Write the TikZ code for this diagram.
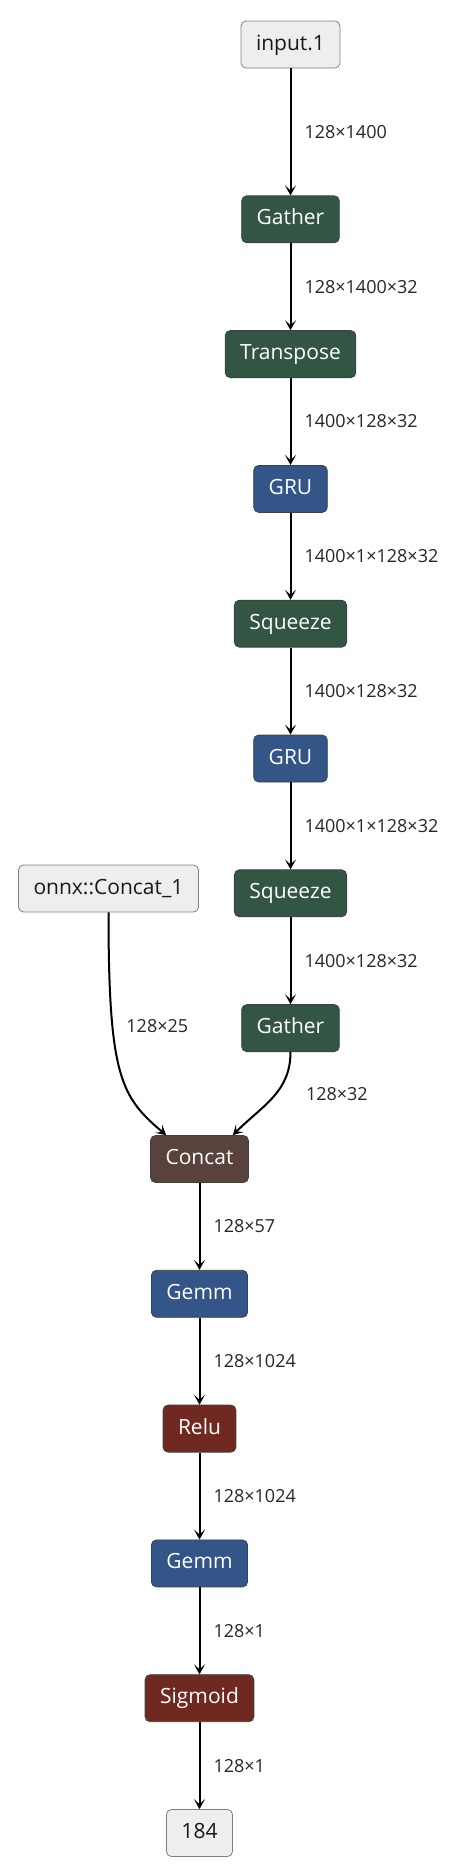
\documentclass[tikz,border=0pt]{standalone}
\usepackage{fontspec}
\setmainfont{Open Sans}
\usepackage{tikz}
\usetikzlibrary{positioning,arrows.meta,calc}
\definecolor{xformgreen}{HTML}{335544}
\definecolor{layerblue}{HTML}{335588}
\definecolor{actred}{HTML}{702921}
\definecolor{tensbrown}{HTML}{59423B}
\definecolor{iogray}{HTML}{EEEEEE}
\tikzset{
  op/.style    ={draw=black!75, rectangle, rounded corners=5pt, align=center, minimum height=47pt, inner xsep=15pt, text height=15pt, text depth=4pt, text=white, line width=0.8pt, font=\fontsize{21}{25}\selectfont},
  xform/.style ={op, fill=xformgreen},
  layer/.style ={op, fill=layerblue},
  act/.style   ={op, fill=actred},
  tens/.style  ={op, fill=tensbrown},
  io/.style    ={op, fill=iogray, draw=black!50, text=black!90},
  arr/.style   ={-{Stealth[length=10pt,width=11pt,inset=5pt]}, line width=2pt},
  lbl/.style   ={inner sep=2pt, anchor=west, text=black!85, font=\fontsize{18}{22}\selectfont},
}

\begin{document}
\begin{tikzpicture}[x=1pt, y=-1pt]
  \useasboundingbox (0,0) rectangle (476,1874);

  % main column
  \node[io] (in1) at (290.5,44.5) {input.1};
  \node[xform, below=127pt of in1] (gat1) {Gather};
  \node[xform, below=87pt of gat1] (trn) {Transpose};
  \node[layer, below=87pt of trn] (gru1) {GRU};
  \node[xform, below=87pt of gru1] (sq1) {Squeeze};
  \node[layer, below=87pt of sq1] (gru2) {GRU};
  \node[xform, below=87pt of gru2] (sq2) {Squeeze};
  \node[xform, below=87pt of sq2] (gat2) {Gather};

  % side input and head
  \node[io] (cc1) at (108.5,888.5) {onnx::Concat\_1};
  \node[tens] (cat) at (199.5,1159) {Concat};
  \node[layer, below=87pt of cat] (gem1) {Gemm};
  \node[act, below=87pt of gem1] (relu) {Relu};
  \node[layer, below=87pt of relu] (gem2) {Gemm};
  \node[act, below=87pt of gem2] (sig) {Sigmoid};
  \node[io, below=87pt of sig] (out) {184};

  \draw[arr] (in1) -- (gat1) node[lbl, midway, right=11pt] (e1) {128×1400};
  \draw[arr] (gat1) -- (trn) node[lbl, midway, right=11pt] (e2) {128×1400×32};
  \draw[arr] (trn) -- (gru1) node[lbl, midway, right=11pt] (e3) {1400×128×32};
  \draw[arr] (gru1) -- (sq1) node[lbl, midway, right=11pt] (e4) {1400×1×128×32};
  \draw[arr] (sq1) -- (gru2) node[lbl, midway, right=11pt] (e5) {1400×128×32};
  \draw[arr] (gru2) -- (sq2) node[lbl, midway, right=11pt] (e6) {1400×1×128×32};
  \draw[arr] (sq2) -- (gat2) node[lbl, midway, right=11pt] (e7) {1400×128×32};

  \draw[arr] (cc1.south) .. controls +(0,165) and +(-45,-38) .. ($(cat.north west)+(16,0)$)
    node[lbl, pos=0.3, right=11pt] (e8) {128×25};
  \draw[arr] (gat2.south) .. controls +(0,40) and +(30,-30) .. ($(cat.north east)+(-16,0)$)
    node[lbl, pos=0.45, right=27pt] (e9) {128×32};

  \draw[arr] (cat) -- (gem1) node[lbl, midway, right=11pt] (e10) {128×57};
  \draw[arr] (gem1) -- (relu) node[lbl, midway, right=11pt] (e11) {128×1024};
  \draw[arr] (relu) -- (gem2) node[lbl, midway, right=11pt] (e12) {128×1024};
  \draw[arr] (gem2) -- (sig) node[lbl, midway, right=11pt] (e13) {128×1};
  \draw[arr] (sig) -- (out) node[lbl, midway, right=11pt] (e14) {128×1};
\end{tikzpicture}
\end{document}
